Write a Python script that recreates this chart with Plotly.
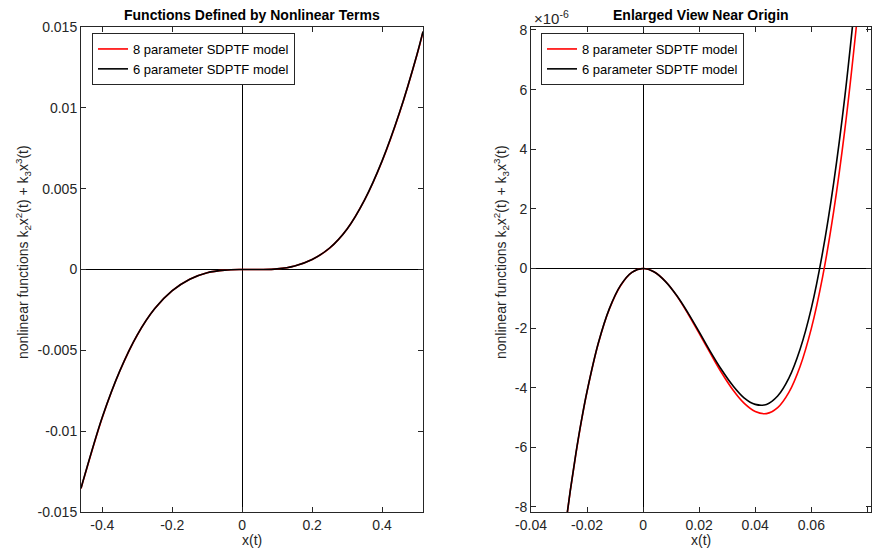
import plotly.graph_objects as go

# ---------------- data ----------------
# Left panel: full view (the two models overlap at this scale)
left_x = [-0.461, -0.45, -0.40, -0.35, -0.30, -0.25, -0.20, -0.15, -0.10, -0.05,
          0.0, 0.05, 0.10, 0.15, 0.20, 0.25, 0.30, 0.35, 0.40, 0.45, 0.50, 0.517]
left_y8 = [-0.01355, -0.01272, -0.00915, -0.00628, -0.00405, -0.00242, -0.00131,
           -0.00060, -0.00020, -0.00004, 0.0, 0.00000, 0.00004, 0.00022, 0.00062,
           0.00132, 0.00250, 0.00430, 0.00670, 0.00970, 0.01330, 0.01470]
left_y6 = [-0.01353, -0.01270, -0.00913, -0.00627, -0.00404, -0.00241, -0.00131,
           -0.00060, -0.00020, -0.00004, 0.0, 0.00000, 0.00004, 0.00022, 0.00062,
           0.00133, 0.00251, 0.00431, 0.00672, 0.00972, 0.01332, 0.01472]

# Right panel: enlarged view near origin (y in units of 1e-6)
right_x = [-0.030, -0.028, -0.026, -0.024, -0.022, -0.020, -0.016, -0.012, -0.008,
           -0.004, 0.0, 0.004, 0.008, 0.012, 0.016, 0.020, 0.024, 0.028, 0.032,
           0.036, 0.040, 0.044, 0.048, 0.052, 0.056, 0.060, 0.064, 0.068, 0.072,
           0.076, 0.078]
right_y8 = [-10.39, -8.86, -7.47, -6.23, -5.11, -4.13, -2.52, -1.35, -0.57, -0.13,
            0.0, -0.12, -0.44, -0.92, -1.52, -2.18, -2.85, -3.50, -4.07, -4.52,
            -4.80, -4.87, -4.67, -4.16, -3.29, -2.02, -0.30, 1.92, 4.68, 8.05, 9.96]
right_y6 = [-10.38, -8.85, -7.46, -6.21, -5.10, -4.12, -2.51, -1.34, -0.56, -0.13,
            0.0, -0.12, -0.44, -0.91, -1.49, -2.13, -2.79, -3.40, -3.93, -4.34,
            -4.56, -4.56, -4.28, -3.68, -2.71, -1.34, 0.52, 2.88, 5.79, 9.32, 11.2]

series_names = ["8 parameter SDPTF model", "6 parameter SDPTF model"]

left_xticks = [-0.4, -0.2, 0, 0.2, 0.4]
left_xticktext = ["-0.4", "-0.2", "0", "0.2", "0.4"]
left_yticks = [-0.015, -0.01, -0.005, 0, 0.005, 0.01, 0.015]
left_yticktext = ["-0.015", "-0.01", "-0.005", "0", "0.005", "0.01", "0.015"]
right_xticks = [-0.04, -0.02, 0, 0.02, 0.04, 0.06, 0.08]
right_xticktext = ["-0.04", "-0.02", "0", "0.02", "0.04", "0.06", "0.08"]
right_yticks = [-8, -6, -4, -2, 0, 2, 4, 6, 8]
right_yticktext = ["-8", "-6", "-4", "-2", "0", "2", "4", "6", "8"]

titles = ["Functions Defined by Nonlinear Terms", "Enlarged View Near Origin"]
xlabel = "x(t)"
ylabel = "nonlinear functions k<sub>2</sub>x<sup>2</sup>(t) + k<sub>3</sub>x<sup>3</sup>(t)"
exponent_label = "\u00d710<sup>-6</sup>"

# ---------------- figure ----------------
W, H = 878, 552
FONT = "Liberation Sans, Arial, Helvetica, sans-serif"
AX = "#262626"


def px(v):
    return v / W


def py(v):
    return 1 - v / H


L_dom = [px(81), px(423)]
R_dom = [px(531), px(871)]
Y_dom = [py(512), py(27)]

fig = go.Figure()
line_style = dict(shape="spline", smoothing=1.0, width=1.6)

fig.add_trace(go.Scatter(x=left_x, y=left_y8, mode="lines", name=series_names[0],
                         line=dict(color="#ff0000", **line_style), xaxis="x", yaxis="y",
                         legend="legend"))
fig.add_trace(go.Scatter(x=left_x, y=left_y6, mode="lines", name=series_names[1],
                         line=dict(color="#000000", **line_style), xaxis="x", yaxis="y",
                         legend="legend"))
fig.add_trace(go.Scatter(x=right_x, y=right_y8, mode="lines", name=series_names[0],
                         line=dict(color="#ff0000", **line_style), xaxis="x2", yaxis="y2",
                         legend="legend2"))
fig.add_trace(go.Scatter(x=right_x, y=right_y6, mode="lines", name=series_names[1],
                         line=dict(color="#000000", **line_style), xaxis="x2", yaxis="y2",
                         legend="legend2"))

axis_common = dict(showline=True, linecolor=AX, linewidth=1, mirror="ticks",
                   ticks="inside", ticklen=5, tickcolor=AX, tickwidth=1,
                   showgrid=False, zeroline=True, zerolinecolor="#000000",
                   zerolinewidth=1, tickfont=dict(family=FONT, size=14, color=AX),
                   tickmode="array", fixedrange=True, automargin=False)

legend_common = dict(xanchor="left", yanchor="top", bgcolor="white",
                     bordercolor=AX, borderwidth=1,
                     font=dict(family=FONT, size=13, color="#000000"),
                     itemwidth=30, tracegroupgap=0)

fig.update_layout(
    width=W, height=H,
    margin=dict(l=0, r=0, t=0, b=0, autoexpand=False),
    paper_bgcolor="white", plot_bgcolor="white",
    font=dict(family=FONT, color="#000000"),
    xaxis=dict(domain=L_dom, anchor="y", range=[-0.461, 0.517],
               tickvals=left_xticks, ticktext=left_xticktext, **axis_common),
    yaxis=dict(domain=Y_dom, anchor="x", range=[-0.015, 0.015],
               tickvals=left_yticks, ticktext=left_yticktext, **axis_common),
    xaxis2=dict(domain=R_dom, anchor="y2", range=[-0.04, 0.0813],
                tickvals=right_xticks, ticktext=right_xticktext, **axis_common),
    yaxis2=dict(domain=Y_dom, anchor="x2", range=[-8.17, 8.1],
                tickvals=right_yticks, ticktext=right_yticktext, **axis_common),
    legend=dict(x=px(92), y=py(33), **legend_common),
    legend2=dict(x=px(541), y=py(33), **legend_common),
    showlegend=True,
)

ann = []
for cx, t in ((252, titles[0]), (701, titles[1])):
    ann.append(dict(text="<b>" + t + "</b>", x=px(cx), y=py(15), xref="paper", yref="paper",
                    showarrow=False, font=dict(family=FONT, size=14, color="#000000"),
                    xanchor="center", yanchor="middle"))
for cx in (252, 701):
    ann.append(dict(text=xlabel, x=px(cx), y=py(540), xref="paper", yref="paper",
                    showarrow=False, font=dict(family=FONT, size=14, color=AX),
                    xanchor="center", yanchor="middle"))
for cx in (23, 501):
    ann.append(dict(text=ylabel, x=px(cx), y=py(252), xref="paper", yref="paper",
                    showarrow=False, textangle=-90,
                    font=dict(family=FONT, size=14, color=AX),
                    xanchor="center", yanchor="middle"))
ann.append(dict(text=exponent_label, x=px(532), y=py(17), xref="paper", yref="paper",
                showarrow=False, font=dict(family=FONT, size=15, color=AX),
                xanchor="left", yanchor="middle"))
fig.update_layout(annotations=ann)

fig.write_html("out.html")
